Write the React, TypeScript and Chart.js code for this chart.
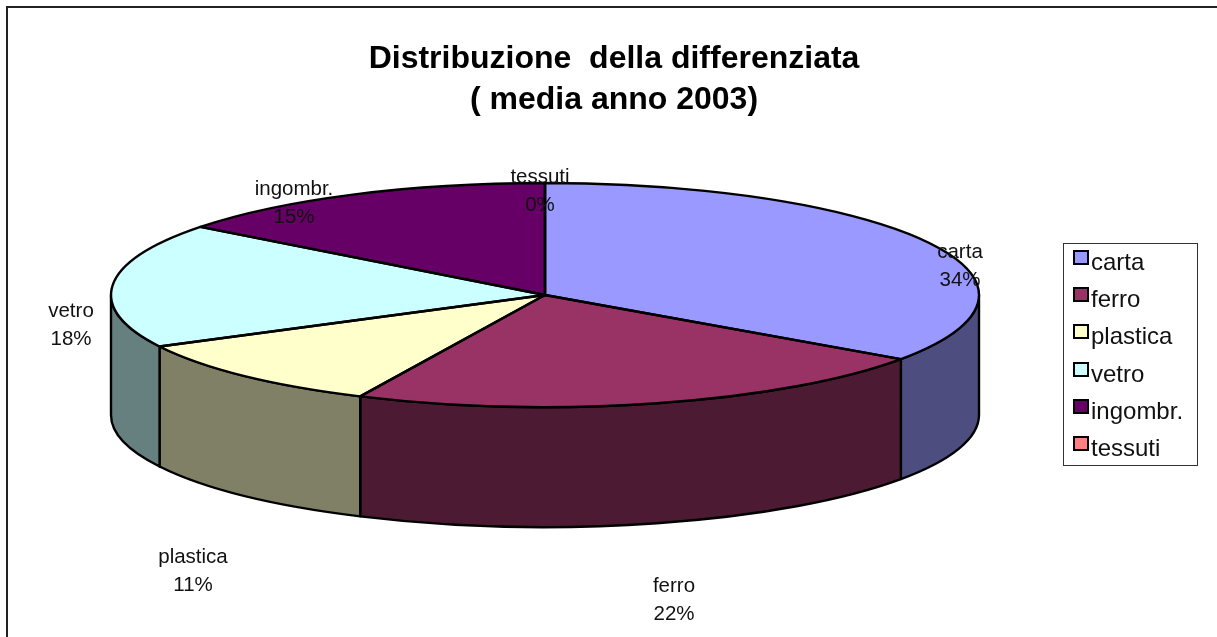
import React, { useEffect, useRef } from "react";
import { Chart, registerables } from "chart.js";

Chart.register(...registerables);

const categories = ["carta", "ferro", "plastica", "vetro", "ingombr.", "tessuti"];
const shares = [34.7, 22.3, 10.4, 18.0, 14.6, 0];
const percentLabels = ["34%", "22%", "11%", "18%", "15%", "0%"];
const sliceColors = ["#9999FF", "#993366", "#FFFFCC", "#CCFFFF", "#660066", "#FF8080"];
const wallColors = ["#4D4D80", "#4D1A33", "#808066", "#668080", "#330033", "#804040"];
const titleLines = ["Distribuzione  della differenziata", "( media anno 2003)"];

// Layout of the 3D projection and of the text (not data)
const PIE = { cx: 545, cy: 295, rx: 434, ry: 112, depth: 120 };
const LABEL_POS: [number, number][] = [
  [960, 258],
  [674, 592],
  [193, 563],
  [71, 317],
  [294, 195],
  [540, 183],
];
const LABEL_LINE = 27.5;
const LEGEND = { x: 1063, y: 243, w: 134, h: 222, boxX: 1074, boxY: 251, textX: 1091, textY: 270, step: 37.2 };
const FONT = '"Liberation Sans", Arial, sans-serif';
const EDGE = 2.4;

const pie3d = {
  id: "pie3d",
  beforeDatasetsDraw(chart: any) {
    const { ctx } = chart;
    const arcs = chart.getDatasetMeta(0).data;
    const { cx, cy, rx, ry, depth } = PIE;
    ctx.save();
    ctx.lineWidth = EDGE;
    ctx.strokeStyle = "#000";
    ctx.lineJoin = "round";
    arcs.forEach((arc: any, i: number) => {
      const s = Math.max(arc.startAngle, 0);
      const e = Math.min(arc.endAngle, Math.PI);
      if (e <= s) return;
      ctx.beginPath();
      ctx.ellipse(cx, cy, rx, ry, 0, s, e);
      ctx.lineTo(cx + rx * Math.cos(e), cy + ry * Math.sin(e) + depth);
      ctx.ellipse(cx, cy + depth, rx, ry, 0, e, s, true);
      ctx.closePath();
      ctx.fillStyle = wallColors[i];
      ctx.fill();
      ctx.stroke();
    });
    ctx.restore();
    // Squash the library's round arcs onto the ellipse of the top face
    ctx.save();
    const first = arcs[0];
    ctx.translate(cx, cy);
    ctx.scale(rx / first.outerRadius, ry / first.outerRadius);
    ctx.translate(-first.x, -first.y);
  },
  afterDatasetsDraw(chart: any) {
    const { ctx } = chart;
    ctx.restore();
    const arcs = chart.getDatasetMeta(0).data;
    const { cx, cy, rx, ry } = PIE;
    ctx.save();
    ctx.lineWidth = EDGE;
    ctx.strokeStyle = "#000";
    ctx.lineJoin = "round";
    arcs.forEach((arc: any) => {
      ctx.beginPath();
      ctx.moveTo(cx, cy);
      ctx.ellipse(cx, cy, rx, ry, 0, arc.startAngle, arc.endAngle);
      ctx.closePath();
      ctx.stroke();
    });

    // Data labels
    ctx.fillStyle = "#111";
    ctx.font = `20.5px ${FONT}`;
    ctx.textAlign = "center";
    ctx.textBaseline = "alphabetic";
    categories.forEach((name, i) => {
      const [x, y] = LABEL_POS[i];
      ctx.fillText(name, x, y);
      ctx.fillText(percentLabels[i], x, y + LABEL_LINE);
    });
    ctx.restore();
  },
  afterDraw(chart: any) {
    const { ctx } = chart;
    ctx.save();
    // Outer chart frame
    ctx.strokeStyle = "#222";
    ctx.lineWidth = 2;
    ctx.strokeRect(7, 7, 1300, 700);
    // Legend
    ctx.lineWidth = 1;
    ctx.strokeStyle = "#333";
    ctx.strokeRect(LEGEND.x + 0.5, LEGEND.y + 0.5, LEGEND.w, LEGEND.h);
    ctx.font = `24px ${FONT}`;
    ctx.textAlign = "left";
    ctx.textBaseline = "alphabetic";
    categories.forEach((name, i) => {
      const dy = LEGEND.step * i;
      const by = Math.round(LEGEND.boxY + dy);
      ctx.fillStyle = sliceColors[i];
      ctx.fillRect(LEGEND.boxX, by, 14, 13);
      ctx.lineWidth = 2;
      ctx.strokeStyle = "#000";
      ctx.strokeRect(LEGEND.boxX, by, 14, 13);
      ctx.fillStyle = "#111";
      ctx.fillText(name, LEGEND.textX, LEGEND.textY + dy);
    });
    ctx.restore();
  },
};

export default function App() {
  const ref = useRef<HTMLCanvasElement>(null);
  useEffect(() => {
    const chart = new Chart(ref.current as HTMLCanvasElement, {
      type: "pie",
      data: {
        labels: categories,
        datasets: [{ data: shares, backgroundColor: sliceColors, borderWidth: 0, radius: 200 }],
      },
      options: {
        animation: false,
        responsive: false,
        devicePixelRatio: 1,
        layout: { padding: { left: 11, right: 0, top: 0, bottom: 0 } },
        plugins: {
          legend: { display: false },
          tooltip: { enabled: false },
          title: {
            display: true,
            text: titleLines,
            color: "#000",
            font: { family: FONT, size: 32, weight: "bold", lineHeight: 1.3 },
            padding: { top: 38, bottom: 10 },
          },
        },
      },
      plugins: [pie3d],
    } as any);
    return () => chart.destroy();
  }, []);
  return (
    <canvas
      ref={ref}
      width={1217}
      height={637}
      style={{ position: "fixed", left: 0, top: 0, display: "block", background: "#fff" }}
    />
  );
}
